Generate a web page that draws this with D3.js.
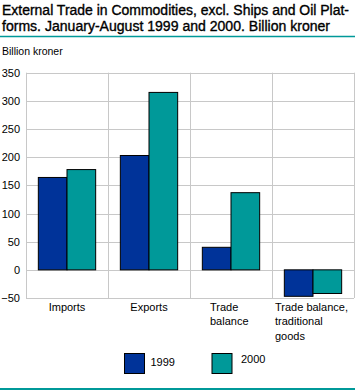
<!DOCTYPE html>
<html><head><meta charset="utf-8">
<script src="https://cdn.jsdelivr.net/npm/d3@7"></script>
<style>body{margin:0;background:#fff}svg{display:block}text{font-family:"Liberation Sans",Arial,sans-serif}</style>
</head><body>
<script>
const titleLines = ["External Trade in Commodities, excl. Ships and Oil Plat-", "forms. January-August 1999 and 2000. Billion kroner"];
const unitLabel = "Billion kroner";
const categories = ["Imports", "Exports", "Trade balance", "Trade balance, traditional goods"];
const categoryLabelLines = [["Imports"], ["Exports"], ["Trade", "balance"], ["Trade balance,", "traditional", "goods"]];
const seriesNames = ["1999", "2000"];
const values1999 = [164, 203, 40, -47];
const values2000 = [178, 315, 137, -42];
const yTicks = [-50, 0, 50, 100, 150, 200, 250, 300, 350];
const colors = ["#003399", "#009999"];

const W = 355, H = 390;
const svg = d3.select("body").append("svg").attr("width", W).attr("height", H);
const m = {left: 26, right: 354, top: 72.7, bottom: 298};

const titleWidths = [347, 328];
svg.selectAll("text.title").data(titleLines).join("text")
  .attr("x", 2).attr("y", (d, i) => 15 + i * 15.5)
  .attr("font-size", 14).attr("font-weight", "normal").attr("fill", "#000")
  .attr("stroke", "#000").attr("stroke-width", 0.35)
  .attr("textLength", (d, i) => titleWidths[i]).attr("lengthAdjust", "spacingAndGlyphs")
  .text(d => d);
svg.append("line").attr("x1", 0).attr("x2", W).attr("y1", 36.5).attr("y2", 36.5).attr("stroke", "#009999").attr("stroke-width", 1.5);
svg.append("line").attr("x1", 0).attr("x2", W).attr("y1", 389).attr("y2", 389).attr("stroke", "#009999").attr("stroke-width", 2);
svg.append("text").attr("x", 2).attr("y", 55).attr("font-size", 10.5).text(unitLabel);

const y = d3.scaleLinear().domain([-50, 350]).range([m.bottom, m.top]);
const x = d3.scaleBand().domain(categories).range([m.left, m.right]).paddingInner(0).paddingOuter(0);
const xs = d3.scaleBand().domain(seriesNames).range([0, x.bandwidth()]).paddingOuter(0.43).paddingInner(0);

const g = svg.append("g");
g.selectAll("line.h").data(yTicks).join("line")
  .attr("x1", m.left).attr("x2", m.right)
  .attr("y1", d => Math.round(y(d)) + 0.5).attr("y2", d => Math.round(y(d)) + 0.5)
  .attr("stroke", "#c8c8c8").attr("stroke-width", 1);
const vx = categories.map(c => x(c)).concat([m.right]);
g.selectAll("line.v").data(vx).join("line")
  .attr("x1", d => Math.round(d) + 0.5).attr("x2", d => Math.round(d) + 0.5)
  .attr("y1", m.top).attr("y2", m.bottom)
  .attr("stroke", "#c8c8c8").attr("stroke-width", 1);

const yAxis = d3.axisLeft(y).tickValues(yTicks).tickSize(0).tickPadding(6);
const ya = svg.append("g").attr("transform", `translate(${m.left},0)`).call(yAxis);
ya.select(".domain").remove();
ya.selectAll("text").attr("font-size", 11).attr("fill", "#000").attr("font-family", '"Liberation Sans",Arial,sans-serif');

const series = [values1999, values2000];
series.forEach((vals, si) => {
  g.selectAll("rect.s" + si).data(vals).join("rect")
    .attr("x", (d, i) => x(categories[i]) + xs(seriesNames[si]))
    .attr("width", xs.bandwidth())
    .attr("y", d => y(Math.max(0, d)))
    .attr("height", d => Math.abs(y(d) - y(0)))
    .attr("fill", colors[si]).attr("stroke", "#000").attr("stroke-width", 1);
});

categories.forEach((c, i) => {
  const lines = categoryLabelLines[i];
  const multi = lines.length > 1;
  const t = svg.append("text").attr("font-size", 11).attr("fill", "#000")
    .attr("text-anchor", multi ? "start" : "middle");
  const tx = i === 3 ? x(c) + 3 : (multi ? x(c) + 20 : x(c) + x.bandwidth() / 2);
  lines.forEach((l, j) => {
    t.append("tspan").attr("x", tx).attr("y", 311 + j * 14.3).text(l);
  });
});

const legX = [124.5, 212];
seriesNames.forEach((s, i) => {
  svg.append("rect").attr("x", legX[i]).attr("y", 353.5).attr("width", 20).attr("height", 20)
    .attr("fill", colors[i]).attr("stroke", "#000").attr("stroke-width", 1);
  svg.append("text").attr("x", legX[i] + 26 + (i === 1 ? 3 : 0)).attr("y", i === 0 ? 366 : 363)
    .attr("font-size", 11).text(s);
});
</script>
</body></html>
